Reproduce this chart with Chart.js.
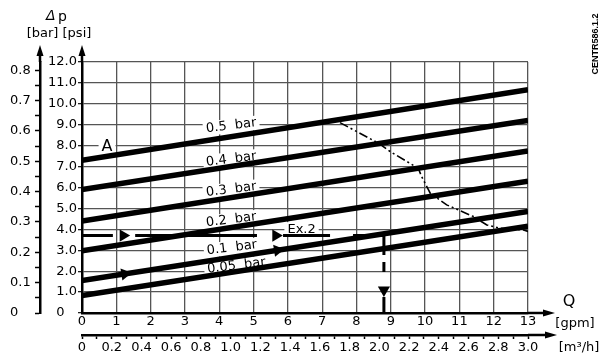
<!DOCTYPE html>
<html>
<head>
<meta charset="utf-8">
<script src="https://cdn.jsdelivr.net/npm/chart.js@4.4.1/dist/chart.umd.min.js"></script>
<style>
  html, body { margin: 0; padding: 0; background: #fff; }
  #wrap { width: 605px; height: 360px; }
</style>
</head>
<body>
<div id="wrap"><canvas id="chart"></canvas></div>
<script>
// flow Q in gpm at the two ends of every pressure line
const gpmEnds = [0, 13];
// differential pressure lines, psi at 0 gpm and at 13 gpm
const line05 = [7.30, 10.67];
const line04 = [5.90, 9.20];
const line03 = [4.40, 7.75];
const line02 = [2.98, 6.30];
const line01 = [1.55, 4.85];
const line005 = [0.83, 4.15];
const lineNames = ['0.5  bar', '0.4  bar', '0.3  bar', '0.2  bar', '0.1  bar', '0.05  bar'];

// dash-dot limit curve
const curveGpm = [7.52, 8.64, 8.98, 9.80, 9.90, 10.15, 10.63, 11.41, 11.80, 12.19, 12.87, 13.0];
const curvePsi = [9.10, 8.12, 7.72, 6.92, 6.52, 5.73, 5.17, 4.61, 4.21, 4.05, 3.97, 3.90];

// example 2 reading: horizontal at 3.7 psi, then down at 8.8 gpm
const ex2Psi = 3.7;
const ex2Segments = [[0, 0.9], [1.55, 5.1], [5.86, 7.23], [7.9, 8.8]];
const dropGpm = 8.8;
const dropSegments = [[3.7, 2.77], [2.44, 1.96], [0.77, 0]];
const ex2ArrowGpm = [1.2, 5.65];
const flowArrowGpm = [1.25, 5.7];
const flowArrowPsi = [1.87, 3.0];
const dropArrowPsi = 1.1;

// axis ticks
const gpmTicks = [0, 1, 2, 3, 4, 5, 6, 7, 8, 9, 10, 11, 12, 13];
const psiTicks = [0, 1, 2, 3, 4, 5, 6, 7, 8, 9, 10, 11, 12];
const barTicks = [0, 0.05, 0.1, 0.15, 0.2, 0.25, 0.3, 0.35, 0.4, 0.45, 0.5, 0.55, 0.6, 0.65, 0.7, 0.75, 0.8];
const m3Ticks = [0, 0.1, 0.2, 0.3, 0.4, 0.5, 0.6, 0.7, 0.8, 0.9, 1.0, 1.1, 1.2, 1.3, 1.4, 1.5,
  1.6, 1.7, 1.8, 1.9, 2.0, 2.1, 2.2, 2.3, 2.4, 2.5, 2.6, 2.7, 2.8, 2.9, 3.0];

const FONT = '"DejaVu Sans", sans-serif';
const GRID = '#555';

function ends(vals) {
    return gpmEnds.map((g, i) => ({ x: g, y: vals[i] }));
}

function pressureLine(vals) {
    return { data: ends(vals), borderColor: '#000', borderWidth: 5.5, pointRadius: 0 };
}

const ex2Data = [];
ex2Segments.forEach(([a, b]) => {
    ex2Data.push({ x: a, y: ex2Psi }, { x: b, y: ex2Psi }, { x: b, y: null });
});
const dropData = [];
dropSegments.forEach(([a, b]) => {
    dropData.push({ x: dropGpm, y: a }, { x: dropGpm, y: b }, { x: dropGpm, y: null });
});

const arrowStyle = { showLine: false, pointStyle: 'triangle', pointRadius: 7,
    pointBackgroundColor: '#000', pointBorderWidth: 0, borderWidth: 0 };

const datasets = [
    pressureLine(line05), pressureLine(line04), pressureLine(line03),
    pressureLine(line02), pressureLine(line01), pressureLine(line005),
    {
        data: curveGpm.map((g, i) => ({ x: g, y: curvePsi[i] })),
        borderColor: '#000', borderWidth: 1.6, pointRadius: 0,
        borderDash: [9, 3, 2, 3, 2, 3]
    },
    { data: ex2Data, borderColor: '#000', borderWidth: 3, pointRadius: 0, spanGaps: false },
    { data: dropData, borderColor: '#000', borderWidth: 3, pointRadius: 0, spanGaps: false },
    { ...arrowStyle, data: ex2ArrowGpm.map(g => ({ x: g, y: ex2Psi })), pointRotation: 90 },
    { ...arrowStyle, data: flowArrowGpm.map((g, i) => ({ x: g, y: flowArrowPsi[i] })), pointRotation: 81 },
    { ...arrowStyle, data: [{ x: dropGpm, y: dropArrowPsi }], pointRotation: 180 }
];

// text placed on the plot
const tags = [
    { text: lineNames[0], gpm: 4.35, psi: 8.95, angle: -7 },
    { text: lineNames[1], gpm: 4.35, psi: 7.35, angle: -7 },
    { text: lineNames[2], gpm: 4.35, psi: 5.9, angle: -7 },
    { text: lineNames[3], gpm: 4.35, psi: 4.45, angle: -7 },
    { text: lineNames[4], gpm: 4.37, psi: 3.12, angle: -7 },
    { text: lineNames[5], gpm: 4.5, psi: 2.25, angle: -7 },
    { text: 'Ex.2', gpm: 6.4, psi: 4.0, angle: 0 },
    { text: 'A', gpm: 0.73, psi: 7.95, angle: 0, size: 16 }
];

function boxedText(ctx, text, x, y, angle, size) {
    ctx.save();
    ctx.translate(x, y);
    ctx.rotate(angle * Math.PI / 180);
    ctx.font = size + 'px ' + FONT;
    const w = ctx.measureText(text).width;
    ctx.fillStyle = '#fff';
    ctx.fillRect(-w / 2 - 3, -size * 0.55, w + 6, size * 1.1);
    ctx.fillStyle = '#000';
    ctx.textAlign = 'center';
    ctx.textBaseline = 'middle';
    ctx.fillText(text, 0, 0);
    ctx.restore();
}

function arrowHead(ctx, x, y, dir, len, half) {
    ctx.beginPath();
    if (dir === 'up') {
        ctx.moveTo(x, y); ctx.lineTo(x - half, y + len); ctx.lineTo(x + half, y + len);
    } else {
        ctx.moveTo(x, y); ctx.lineTo(x - len, y - half); ctx.lineTo(x - len, y + half);
    }
    ctx.closePath();
    ctx.fill();
}

const extras = {
    id: 'extras',
    beforeDatasetsDraw(chart) {
        const { ctx, scales: { x, y } } = chart;
        tags.forEach(t => {
            boxedText(ctx, t.text, x.getPixelForValue(t.gpm), y.getPixelForValue(t.psi), t.angle, t.size || 13);
        });
    },
    afterDraw(chart) {
        const { ctx, chartArea, scales } = chart;
        ctx.save();
        ctx.strokeStyle = '#000';
        ctx.fillStyle = '#000';
        ctx.lineWidth = 2.5;
        // vertical axes run past the top of the grid
        [scales.bar.right, scales.y.right].forEach(ax => {
            ctx.beginPath();
            ctx.moveTo(ax, chartArea.top);
            ctx.lineTo(ax, 52);
            ctx.stroke();
            arrowHead(ctx, ax, 45, 'up', 11, 3.5);
        });
        // horizontal axes run past the right of the grid
        [[scales.x.top, 555], [scales.m3.top, 557]].forEach(([ay, tip]) => {
            ctx.beginPath();
            ctx.moveTo(chartArea.right, ay);
            ctx.lineTo(tip - 8, ay);
            ctx.stroke();
            arrowHead(ctx, tip, ay, 'right', 12, 3.5);
        });

        ctx.textBaseline = 'middle';
        ctx.textAlign = 'left';
        ctx.font = 'italic 14px ' + FONT;
        ctx.fillText('\u0394', 46, 16);
        ctx.font = '14px ' + FONT;
        ctx.fillText('p', 58, 17);
        ctx.font = '13px ' + FONT;
        ctx.textAlign = 'center';
        ctx.fillText('[bar] [psi]', 59, 34);
        ctx.font = '16px ' + FONT;
        ctx.fillText('Q', 569, 302);
        ctx.font = '13px ' + FONT;
        ctx.fillText('[gpm]', 575, 324);
        ctx.fillText('[m\u00b3/h]', 579, 348);

        ctx.save();
        ctx.translate(596, 44);
        ctx.rotate(-Math.PI / 2);
        ctx.font = 'bold 9px "Liberation Sans", sans-serif';
        ctx.fillText('CENTR586.1.2', 0, 0);
        ctx.restore();
        ctx.restore();
    }
};

const tickFont = { family: FONT, size: 13 };

new Chart(document.getElementById('chart'), {
    type: 'line',
    data: { datasets },
    options: {
        responsive: true,
        maintainAspectRatio: false,
        animation: false,
        events: [],
        layout: { padding: { left: 10, top: 62, right: 77, bottom: 5 } },
        plugins: { legend: { display: false }, tooltip: { enabled: false } },
        elements: { line: { tension: 0 } },
        scales: {
            x: {
                type: 'linear', position: 'bottom', min: 0, max: 13,
                afterBuildTicks: s => { s.ticks = gpmTicks.map(v => ({ value: v })); },
                afterFit: s => { s.height = 22; },
                grid: { color: GRID, lineWidth: 1.3, drawTicks: false },
                border: { color: '#000', width: 2.5 },
                ticks: { font: tickFont, color: '#000', padding: 1, autoSkip: false, maxRotation: 0 }
            },
            m3: {
                type: 'linear', position: 'bottom', min: 0, max: 3.0,
                afterBuildTicks: s => { s.ticks = m3Ticks.map(v => ({ value: v })); },
                afterFit: s => { s.height = 20; },
                grid: { drawOnChartArea: false, tickLength: 4, tickColor: '#000', tickWidth: 1.5 },
                border: { color: '#000', width: 2.5 },
                ticks: {
                    font: tickFont, color: '#000', padding: 1, autoSkip: false, maxRotation: 0,
                    callback: v => Math.round(v * 10) % 2 === 0 ? (v === 0 ? '0' : v.toFixed(1)) : ''
                }
            },
            y: {
                type: 'linear', position: 'left', min: 0, max: 12,
                afterBuildTicks: s => { s.ticks = psiTicks.map(v => ({ value: v })); },
                afterFit: s => { s.width = 42; },
                grid: { color: GRID, lineWidth: 1.3, tickLength: 4, tickColor: '#222' },
                border: { color: '#000', width: 2.5 },
                ticks: {
                    font: tickFont, color: '#000', padding: 1, autoSkip: false,
                    callback: v => v === 0 ? '0\u2007\u2008' : v.toFixed(1)
                }
            },
            bar: {
                type: 'linear', position: 'left', min: 0, max: 12 / 14.5038,
                afterBuildTicks: s => { s.ticks = barTicks.map(v => ({ value: v })); },
                afterFit: s => { s.width = 30; },
                grid: { drawOnChartArea: false, tickLength: 5, tickColor: '#000', tickWidth: 1.5 },
                border: { color: '#000', width: 2.5 },
                ticks: {
                    font: tickFont, color: '#000', padding: 2, autoSkip: false, crossAlign: 'far',
                    callback: v => Math.round(v * 20) % 2 === 0 ? (v === 0 ? '0' : v.toFixed(1)) : ''
                }
            }
        }
    },
    plugins: [extras]
});
</script>
</body>
</html>
